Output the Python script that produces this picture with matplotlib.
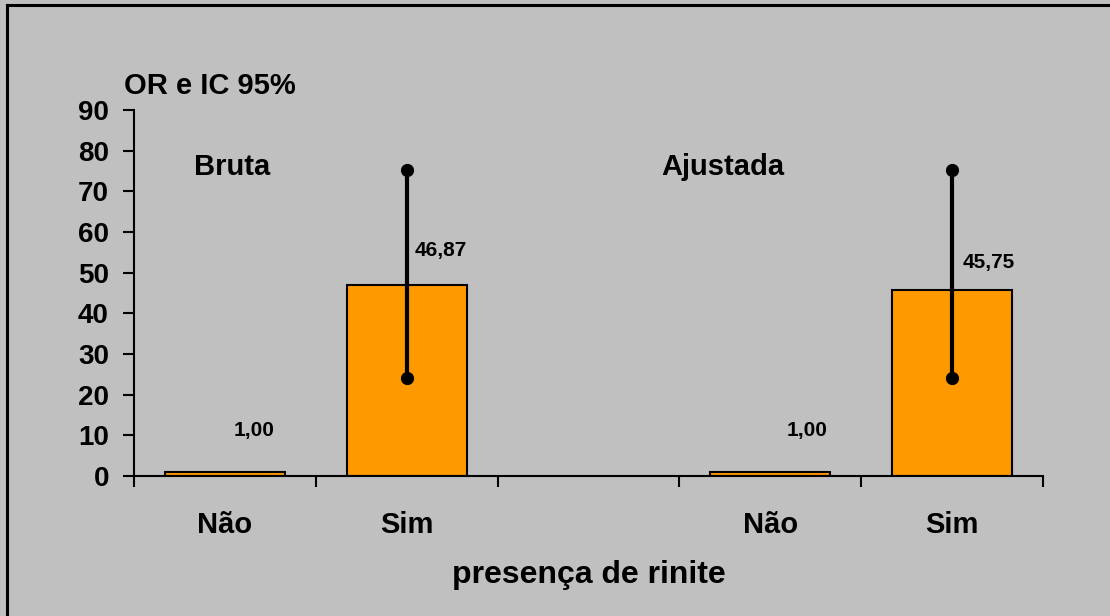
import matplotlib
matplotlib.use("Agg")
import matplotlib.pyplot as plt
from matplotlib.lines import Line2D

plt.rcParams['font.family'] = ['Liberation Sans', 'DejaVu Sans']
plt.rcParams['font.weight'] = 'bold'

# Odds ratios with 95% confidence intervals, crude and adjusted models
categories = ["Não", "Sim", "", "Não", "Sim"]
odds_ratio = [1.00, 46.87, None, 1.00, 45.75]
ci_low = [None, 24.1, None, None, 24.1]
ci_high = [None, 75.3, None, None, 75.3]
value_labels = ["1,00", "46,87", "", "1,00", "45,75"]
group_titles = ["Bruta", "Ajustada"]
y_ticks = [0, 10, 20, 30, 40, 50, 60, 70, 80, 90]

bg = "#C0C0C0"
bar_color = "#FF9900"

fig = plt.figure(figsize=(11.1, 6.16), dpi=100, facecolor=bg)
ax = fig.add_axes([0.1207, 0.2273, 0.9396 - 0.1207, 0.8214 - 0.2273])
ax.set_facecolor(bg)

xs = list(range(len(categories)))
for x, v in zip(xs, odds_ratio):
    if v is None:
        continue
    ax.bar(x, v, width=0.66, color=bar_color, edgecolor="black", linewidth=1.5, zorder=2)

for x, lo, hi in zip(xs, ci_low, ci_high):
    if lo is None:
        continue
    ax.plot([x, x], [lo, hi], color="black", linewidth=3, zorder=3,
            marker="o", markersize=8.5, solid_capstyle="butt")

# value labels next to each bar
label_pos = [(0.16, 11.3), (1.19, 55.5), None, (3.20, 11.3), (4.20, 52.6)]
for txt, pos in zip(value_labels, label_pos):
    if pos is None:
        continue
    ax.text(pos[0], pos[1], txt, ha="center", va="center", fontsize=15,
            fontweight="bold", zorder=4)

ax.text(0.04, 76, group_titles[0], ha="center", va="center", fontsize=21, fontweight="bold")
ax.text(2.74, 76, group_titles[1], ha="center", va="center", fontsize=21, fontweight="bold")

ax.set_xlim(-0.5, len(categories) - 0.5)
ax.set_ylim(0, 90)
ax.set_yticks(y_ticks)
ax.set_yticklabels([str(t) for t in y_ticks], fontsize=20, fontweight="bold")

# category boundaries carry the tick marks, labels sit in the slot centres
ax.set_xticks([x - 0.5 for x in xs] + [len(categories) - 0.5])
ax.set_xticklabels([])
ax.set_xticks(xs, minor=True)
ax.set_xticklabels(categories, minor=True, fontsize=21, fontweight="bold")
ax.tick_params(axis="x", which="minor", length=0, pad=25)
ax.tick_params(axis="x", which="major", direction="out", length=8, width=1.5)
ax.tick_params(axis="y", direction="out", length=8, width=1.5, pad=10)

for side in ["top", "right"]:
    ax.spines[side].set_visible(False)
for side in ["left", "bottom"]:
    ax.spines[side].set_linewidth(1.5)

ax.set_xlabel("presença de rinite", fontsize=23, fontweight="bold", labelpad=15)
fig.text(210 / 1110, 1 - 86 / 616, "OR e IC 95%", ha="center", va="center",
         fontsize=21, fontweight="bold")

# outer chart frame
fig.add_artist(Line2D([7 / 1110, 7 / 1110], [0, 1 - 5 / 616], color="black", linewidth=2.2,
                      transform=fig.transFigure))
fig.add_artist(Line2D([7 / 1110, 1], [1 - 5 / 616, 1 - 5 / 616], color="black", linewidth=2.2,
                      transform=fig.transFigure))

fig.savefig("out.png", dpi=100, facecolor=bg)
